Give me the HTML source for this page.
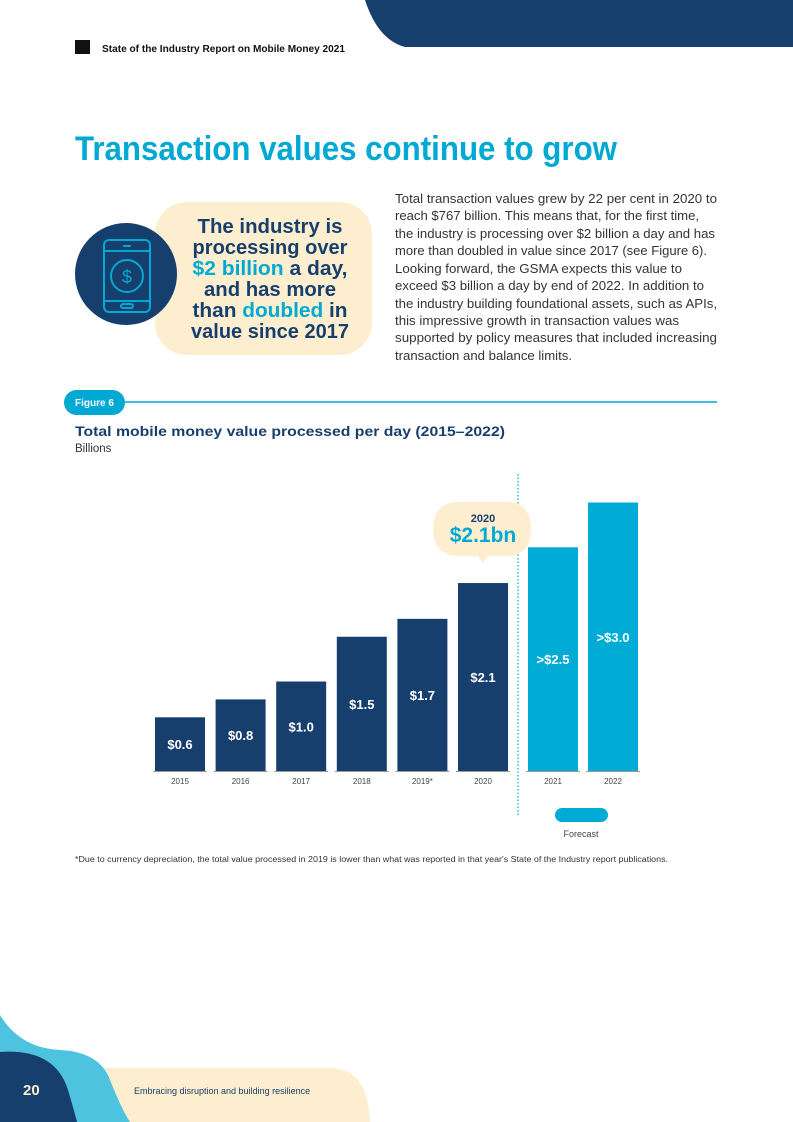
<!DOCTYPE html>
<html><head><meta charset="utf-8"><style>
html,body{margin:0;padding:0;background:#fff;}
svg{display:block;font-family:"Liberation Sans",sans-serif;}
</style></head><body>
<svg id="page" width="793" height="1122" viewBox="0 0 793 1122" xmlns="http://www.w3.org/2000/svg">
<!-- top-right shape -->
<path d="M365 0 L793 0 L793 47 L405 47 Q378 40 365 0 Z" fill="#173f6e"/>
<rect x="75" y="40" width="15" height="14" fill="#111"/>
<text x="102" y="52" font-size="10" font-weight="bold" fill="#111" textLength="243" lengthAdjust="spacingAndGlyphs">State of the Industry Report on Mobile Money 2021</text>

<text x="75" y="160" font-size="34" font-weight="bold" fill="#00a9d4" textLength="542" lengthAdjust="spacingAndGlyphs">Transaction values continue to grow</text>

<!-- callout -->
<g>
<rect x="155" y="202" width="217" height="153" rx="32" fill="#fdeecf"/>
<circle cx="126" cy="274" r="51" fill="#173f6e"/>
<g fill="none" stroke="#00a9d4" stroke-width="2">
<rect x="104" y="240" width="46" height="72" rx="5"/>
<line x1="104" y1="251" x2="150" y2="251"/><line x1="104" y1="301" x2="150" y2="301"/>
<line x1="123" y1="246" x2="131" y2="246"/><rect x="121" y="304" width="12" height="4" rx="2"/>
<circle cx="127" cy="276" r="16"/>
<text x="127" y="283" font-size="18" text-anchor="middle" fill="#00a9d4" stroke="none">$</text>
</g>
<g font-size="20" font-weight="bold" fill="#173f6e" text-anchor="middle">
<text x="270" y="233" textLength="145" lengthAdjust="spacingAndGlyphs">The industry is</text>
<text x="270" y="254" textLength="155" lengthAdjust="spacingAndGlyphs">processing over</text>
<text x="270" y="275" textLength="155" lengthAdjust="spacingAndGlyphs"><tspan fill="#00a9d4">$2 billion</tspan> a day,</text>
<text x="270" y="296" textLength="132" lengthAdjust="spacingAndGlyphs">and has more</text>
<text x="270" y="317" textLength="155" lengthAdjust="spacingAndGlyphs">than <tspan fill="#00a9d4">doubled</tspan> in</text>
<text x="270" y="338" textLength="158" lengthAdjust="spacingAndGlyphs">value since 2017</text>
</g>
</g>

<!-- paragraph -->
<g font-size="13" fill="#333">
<text x="395" y="203" textLength="322" lengthAdjust="spacingAndGlyphs">Total transaction values grew by 22 per cent in 2020 to</text>
<text x="395" y="220" textLength="304" lengthAdjust="spacingAndGlyphs">reach $767 billion. This means that, for the first time,</text>
<text x="395" y="238" textLength="320" lengthAdjust="spacingAndGlyphs">the industry is processing over $2 billion a day and has</text>
<text x="395" y="255" textLength="312" lengthAdjust="spacingAndGlyphs">more than doubled in value since 2017 (see Figure 6).</text>
<text x="395" y="273" textLength="287" lengthAdjust="spacingAndGlyphs">Looking forward, the GSMA expects this value to</text>
<text x="395" y="290" textLength="309" lengthAdjust="spacingAndGlyphs">exceed $3 billion a day by end of 2022. In addition to</text>
<text x="395" y="308" textLength="322" lengthAdjust="spacingAndGlyphs">the industry building foundational assets, such as APIs,</text>
<text x="395" y="325" textLength="284" lengthAdjust="spacingAndGlyphs">this impressive growth in transaction values was</text>
<text x="395" y="342" textLength="322" lengthAdjust="spacingAndGlyphs">supported by policy measures that included increasing</text>
<text x="395" y="360" textLength="177" lengthAdjust="spacingAndGlyphs">transaction and balance limits.</text>
</g>

<!-- figure header -->
<line x1="120" y1="402" x2="717" y2="402" stroke="#00a9d4" stroke-width="1.5"/>
<rect x="64" y="390" width="61" height="25" rx="12.5" fill="#00a9d4"/>
<text x="94.5" y="406" font-size="10" font-weight="bold" fill="#fff" text-anchor="middle">Figure 6</text>
<text x="75" y="436" font-size="14" font-weight="bold" fill="#173f6e" textLength="430" lengthAdjust="spacingAndGlyphs">Total mobile money value processed per day (2015–2022)</text>
<text x="75" y="452" font-size="11.5" fill="#333">Billions</text>

<g id="chart"></g>

<text x="75" y="862" font-size="8" fill="#333" textLength="593" lengthAdjust="spacingAndGlyphs">*Due to currency depreciation, the total value processed in 2019 is lower than what was reported in that year's State of the Industry report publications.</text>

<!-- footer -->
<path d="M100 1068 L330 1068 Q368 1068 370 1122 L100 1122 Z" fill="#fdeecf"/>
<path d="M0 1015 Q20 1048 60 1050 Q100 1052 110 1080 Q122 1110 130 1122 L0 1122 Z" fill="#4dc3e0"/>
<path d="M0 1052 Q55 1048 68 1090 Q74 1110 77 1122 L0 1122 Z" fill="#173f6e"/>
<text x="23" y="1095" font-size="15" font-weight="bold" fill="#fdeecf">20</text>
<text x="134" y="1094" font-size="9" fill="#1a3f6b">Embracing disruption and building resilience</text>
</svg>
<script>
const categories = ["2015","2016","2017","2018","2019*","2020","2021","2022"];
const values = [0.6, 0.8, 1.0, 1.5, 1.7, 2.1, 2.5, 3.0];
const valueLabels = ["$0.6","$0.8","$1.0","$1.5","$1.7","$2.1",">$2.5",">$3.0"];
const isForecast = [false,false,false,false,false,false,true,true];

const NS = "http://www.w3.org/2000/svg";
const g = document.getElementById("chart");
const baseY = 771, unit = 89.5, barW = 50;
function y(v){ return baseY - v*unit; }
function xPos(i){ return i < 6 ? 155 + i*60.6 : 528 + (i-6)*60; }
function mk(tag, attrs){ const e = document.createElementNS(NS, tag); for (const k in attrs) e.setAttribute(k, attrs[k]); g.appendChild(e); return e; }

categories.forEach((c, i) => {
  const x = xPos(i), top = y(values[i]);
  const bar = mk("rect", {x: x, y: top, width: barW, height: baseY - top, fill: isForecast[i] ? "#00acd6" : "#173f6e"});
  
  
  const base = mk("line", {x1: x-2, x2: x+barW+2, y1: baseY+0.5, y2: baseY+0.5, stroke: "#999", "stroke-width": 1});
  
  
  const vl = mk("text", {x: x+barW/2, y: (top+baseY)/2 + 5, "font-size": 13, "font-weight": "bold", fill: "#fff", "text-anchor": "middle"});
  vl.textContent = valueLabels[i];
  
  
  const cl = mk("text", {x: x+barW/2, y: baseY+13, "font-size": 8, fill: "#444", "text-anchor": "middle"});
  cl.textContent = c;
  
  
});

// forecast divider
const div = mk("line", {x1: 518, x2: 518, y1: 474, y2: 816, stroke: "#00a9d4", "stroke-width": 1.2, "stroke-dasharray": "1.5 2"});


const pill = mk("rect", {x: 555, y: 808, width: 53, height: 14, rx: 7, fill: "#00acd6"});


const ft = mk("text", {x: 581, y: 837, "font-size": 9, fill: "#444", "text-anchor": "middle"});
ft.textContent = "Forecast";



// 2020 callout bubble
const bx = xPos(5) + barW/2;
const bub = mk("path", {d: "M" + (bx-23) + " 502 L" + (bx+23) + " 502 Q" + (bx+48) + " 502 " + (bx+48) + " 529 Q" + (bx+48) + " 556 " + (bx+23) + " 556 L" + (bx+5) + " 556 L" + bx + " 563 L" + (bx-5) + " 556 L" + (bx-23) + " 556 Q" + (bx-50) + " 556 " + (bx-50) + " 529 Q" + (bx-50) + " 502 " + (bx-23) + " 502 Z", fill: "#fdeecf"});


const b1 = mk("text", {x: bx, y: 522, "font-size": 11, "font-weight": "bold", fill: "#173f6e", "text-anchor": "middle"});
b1.textContent = categories[5];


const b2 = mk("text", {x: bx, y: 542, "font-size": 21, "font-weight": "bold", fill: "#00a9d4", "text-anchor": "middle"});
b2.textContent = "$" + values[5] + "bn";


</script>
</body></html>
